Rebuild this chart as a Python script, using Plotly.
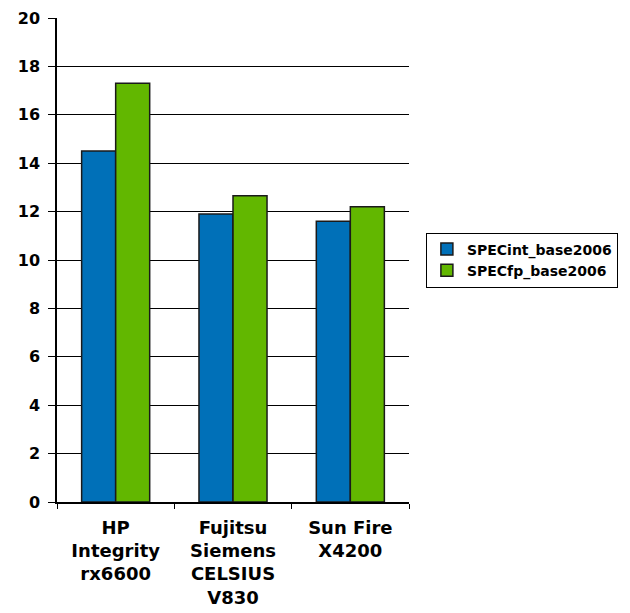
import plotly.graph_objects as go

categories = ["HP<br>Integrity<br>rx6600", "Fujitsu<br>Siemens<br>CELSIUS<br>V830", "Sun Fire<br>X4200"]
specint = [14.5, 11.9, 11.6]
specfp = [17.3, 12.65, 12.2]
yticks = [0, 2, 4, 6, 8, 10, 12, 14, 16, 18, 20]

font_fam = "DejaVu Sans, Verdana, sans-serif"

fig = go.Figure()
fig.add_trace(go.Bar(name="SPECint_base2006", x=categories, y=specint,
                     marker=dict(color="#0070B8", line=dict(color="#1a1a1a", width=1.5))))
fig.add_trace(go.Bar(name="SPECfp_base2006", x=categories, y=specfp,
                     marker=dict(color="#62B700", line=dict(color="#1a1a1a", width=1.5))))

fig.update_layout(
    width=630, height=613,
    margin=dict(l=49, r=229, t=10, b=119, autoexpand=False),
    plot_bgcolor="white", paper_bgcolor="white",
    barmode="group", bargap=0.42, bargroupgap=0,
    font=dict(family=font_fam, color="black", size=14),
    showlegend=True,
    legend=dict(x=1.048, y=0.5, xanchor="left", yanchor="middle",
                bordercolor="black", borderwidth=1,
                font=dict(family=font_fam, size=14, weight="bold"),
                itemwidth=30, tracegroupgap=0),
)
fig.update_yaxes(range=[0, 20], tickvals=yticks, showgrid=True, gridcolor="black", gridwidth=1,
                 showline=True, linecolor="black", linewidth=1.5, automargin=False,
                 ticklabeloverflow="allow",
                 ticks="outside", ticklen=7, tickcolor="black", ticklabelstandoff=5,
                 tickfont=dict(family=font_fam, size=16, weight="bold"), zeroline=False)
fig.update_xaxes(showline=True, linecolor="black", linewidth=2, ticks="outside", ticklen=5,
                 tickson="boundaries", tickcolor="black", ticklabelstandoff=8, automargin=False,
                 ticklabeloverflow="allow",
                 tickfont=dict(family=font_fam, size=18, weight="bold"))

fig.write_html("out.html")
